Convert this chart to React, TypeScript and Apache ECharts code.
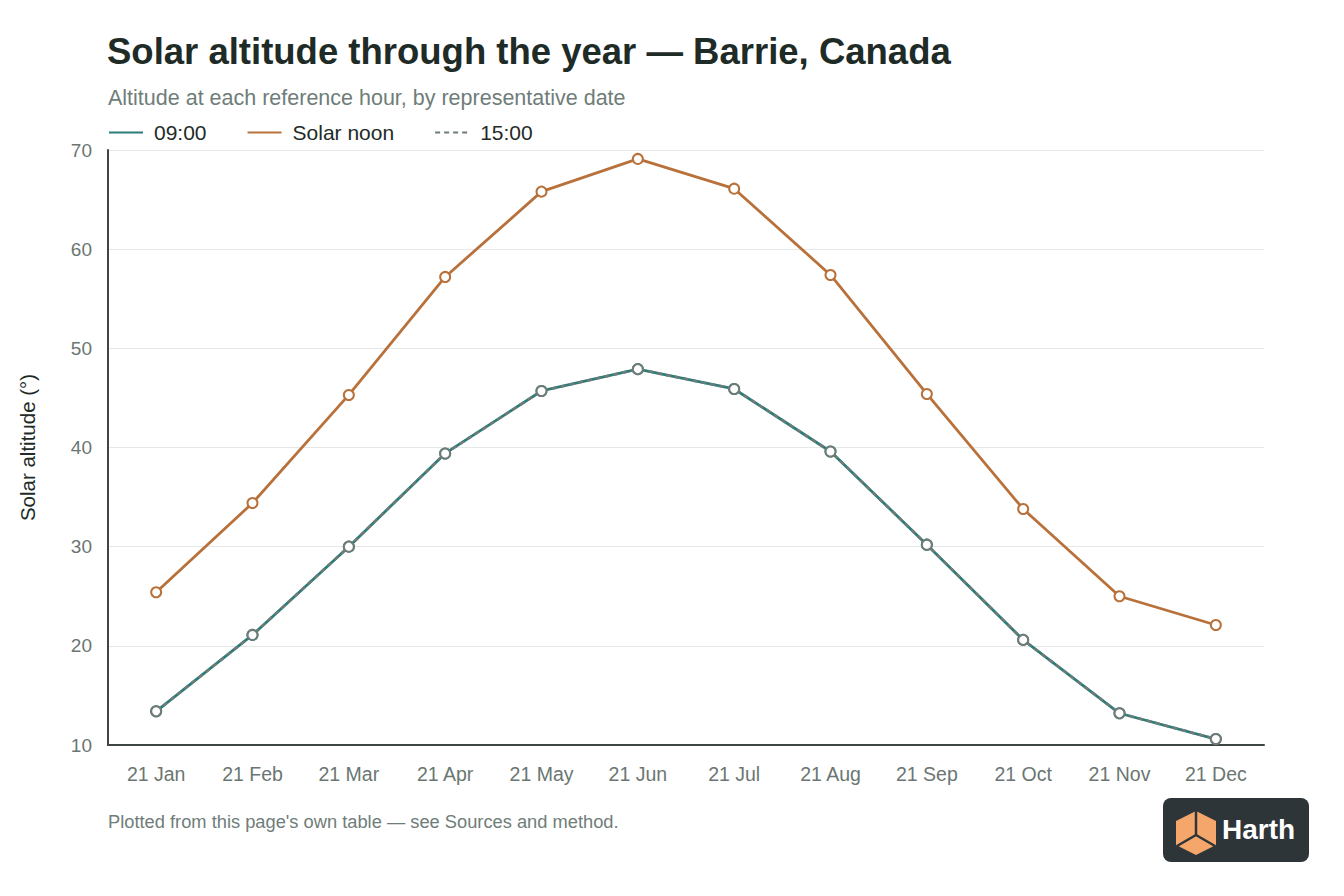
import React, { useEffect, useRef } from 'react';
import * as echarts from 'echarts';

const dates = ['21 Jan', '21 Feb', '21 Mar', '21 Apr', '21 May', '21 Jun', '21 Jul', '21 Aug', '21 Sep', '21 Oct', '21 Nov', '21 Dec'];
const morning = [13.4, 21.1, 30.0, 39.4, 45.7, 47.9, 45.9, 39.6, 30.2, 20.6, 13.2, 10.6];
const noon = [25.4, 34.4, 45.3, 57.2, 65.8, 69.1, 66.1, 57.4, 45.4, 33.8, 25.0, 22.1];
const afternoon = [13.4, 21.1, 30.0, 39.4, 45.7, 47.9, 45.9, 39.6, 30.2, 20.6, 13.2, 10.6];

const FONT = '"Liberation Sans", Arial, Helvetica, sans-serif';

const App: React.FC = () => {
  const chartRef = useRef<HTMLDivElement | null>(null);

  useEffect(() => {
    if (!chartRef.current) return;
    const chart = echarts.init(chartRef.current, null, { renderer: 'svg' });

    chart.setOption({
      animation: false,
      backgroundColor: '#ffffff',
      textStyle: { fontFamily: FONT },
      title: [
        {
          text: 'Solar altitude through the year — Barrie, Canada',
          left: 102,
          top: 28,
          textStyle: { fontSize: 36.5, fontWeight: 'bold', color: '#1e2b27', fontFamily: FONT },
        },
        {
          text: 'Altitude at each reference hour, by representative date',
          left: 103,
          top: 82,
          textStyle: { fontSize: 21.5, fontWeight: 'normal', color: '#6f7d79', fontFamily: FONT },
        },
      ],
      legend: {
        left: 103,
        top: 117,
        itemWidth: 34,
        itemHeight: 20,
        itemGap: 40,
        itemStyle: { opacity: 0 },
        textStyle: { fontSize: 21, color: '#1e2b27', fontFamily: FONT, padding: [0, 0, 0, 6] },
        data: ['09:00', 'Solar noon', '15:00'],
      },
      grid: { left: 108, right: 80, top: 150, bottom: 151, containLabel: false },
      xAxis: {
        type: 'category',
        data: dates,
        boundaryGap: true,
        axisLine: { lineStyle: { color: '#3f4543', width: 2 } },
        axisTick: { show: false },
        axisLabel: { fontSize: 19.5, color: '#6b7672', margin: 19, fontFamily: FONT },
      },
      yAxis: {
        type: 'value',
        min: 10,
        max: 70,
        interval: 10,
        name: 'Solar altitude (°)',
        nameLocation: 'middle',
        nameGap: 70,
        nameTextStyle: { fontSize: 20.5, color: '#1e2b27', fontFamily: FONT },
        axisLine: { show: true, lineStyle: { color: '#3f4543', width: 2 } },
        axisTick: { show: false },
        axisLabel: { fontSize: 19, color: '#6b7672', margin: 16, fontFamily: FONT },
        splitLine: { lineStyle: { color: '#e6e8e7', width: 1 } },
      },
      series: [
        {
          name: '09:00',
          type: 'line',
          data: morning,
          symbol: 'emptyCircle',
          symbolSize: 10,
          lineStyle: { color: '#2a7d78', width: 2.8 },
          itemStyle: { color: '#2a7d78', borderWidth: 2 },
          z: 2,
        },
        {
          name: 'Solar noon',
          type: 'line',
          data: noon,
          symbol: 'emptyCircle',
          symbolSize: 10,
          lineStyle: { color: '#b8713a', width: 2.8 },
          itemStyle: { color: '#b8713a', borderWidth: 2 },
          z: 3,
        },
        {
          name: '15:00',
          type: 'line',
          data: afternoon,
          symbol: 'emptyCircle',
          symbolSize: 10,
          lineStyle: { color: '#6f7b78', width: 2.6, type: [5, 4] },
          itemStyle: { color: '#6f7b78', borderWidth: 2 },
          z: 4,
        },
      ],
      graphic: [
        {
          type: 'text',
          left: 108,
          top: 812,
          style: {
            text: "Plotted from this page's own table — see Sources and method.",
            fontSize: 18.3,
            fill: '#6f7d79',
            fontFamily: FONT,
          },
        },
        {
          type: 'group',
          left: 1163,
          top: 798,
          children: [
            { type: 'rect', shape: { x: 0, y: 0, width: 146, height: 64, r: 8 }, style: { fill: '#2d3539' } },
            {
              type: 'polygon',
              shape: { points: [[33, 13], [53, 23], [53, 47], [33, 57], [13, 47], [13, 23]] },
              style: { fill: '#f4a66b' },
            },
            { type: 'line', shape: { x1: 33, y1: 13, x2: 33, y2: 37 }, style: { stroke: '#2d3539', lineWidth: 2.5 } },
            { type: 'line', shape: { x1: 33, y1: 37, x2: 14, y2: 48 }, style: { stroke: '#2d3539', lineWidth: 2.5 } },
            { type: 'line', shape: { x1: 33, y1: 37, x2: 52, y2: 48 }, style: { stroke: '#2d3539', lineWidth: 2.5 } },
            {
              type: 'text',
              x: 59,
              y: 17,
              style: { text: 'Harth', fontSize: 28, fontWeight: 'bold', fill: '#ffffff', fontFamily: FONT },
            },
          ],
        },
      ],
    });

    return () => {
      chart.dispose();
    };
  }, []);

  return (
    <div
      ref={chartRef}
      style={{ position: 'fixed', left: 0, top: 0, width: '1344px', height: '896px', background: '#fff' }}
    ></div>
  );
};

export default App;
